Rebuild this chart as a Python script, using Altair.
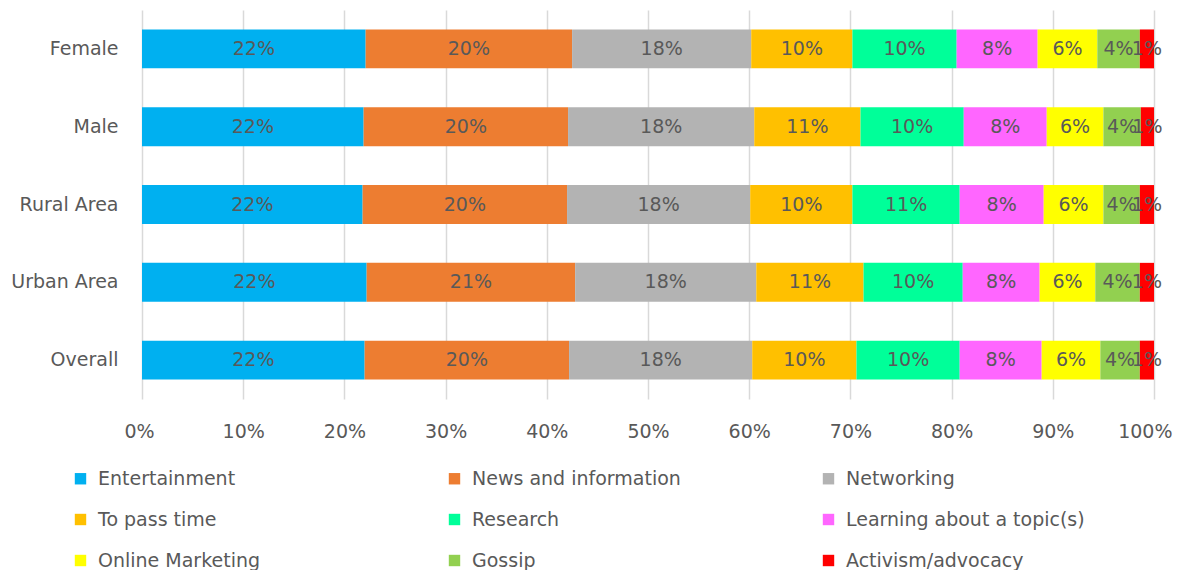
import math
import altair as alt
import pandas as pd

groups = ["Female", "Male", "Rural Area", "Urban Area", "Overall"]
reasons = ["Entertainment", "News and information", "Networking", "To pass time",
           "Research", "Learning about a topic(s)", "Online Marketing", "Gossip",
           "Activism/advocacy"]
colors = ["#00B0F0", "#ED7D31", "#B3B3B3", "#FFC000", "#00FF99", "#FF66FF",
          "#FFFF00", "#92D050", "#FF0000"]

female = [22.1, 20.4, 17.7, 10.0, 10.3, 8.0, 5.9, 4.2, 1.4]
male = [21.9, 20.2, 18.4, 10.5, 10.2, 8.2, 5.6, 3.7, 1.3]
rural = [21.8, 20.2, 18.1, 10.1, 10.6, 8.3, 5.9, 3.6, 1.4]
urban = [22.2, 20.6, 17.9, 10.6, 9.8, 7.6, 5.5, 4.4, 1.4]
overall = [22.0, 20.2, 18.1, 10.3, 10.2, 8.1, 5.8, 3.9, 1.4]

series = [female, male, rural, urban, overall]
rows = []
for g, vals in zip(groups, series):
    for i, (r, v) in enumerate(zip(reasons, vals)):
        rows.append({"group": g, "reason": r, "idx": i, "value": v,
                     "label": f"{int(math.floor(v + 0.5))}%"})
df = pd.DataFrame(rows)

FONT = "DejaVu Sans"
GREY = "#595959"
FS = 19

base = alt.Chart(df)

y_enc = alt.Y("group:N", sort=groups,
              scale=alt.Scale(paddingInner=0.5, paddingOuter=0.25),
              axis=alt.Axis(title=None, ticks=False, domain=False, grid=False,
                            labelFontSize=FS, labelColor=GREY, labelFont=FONT,
                            labelPadding=24))

bars = base.mark_bar().encode(
    y=y_enc,
    x=alt.X("value:Q", stack="zero",
            scale=alt.Scale(domain=[0, 100], nice=False, clamp=True),
            axis=alt.Axis(title=None, values=list(range(0, 101, 10)),
                          labelExpr="datum.value + '%'", ticks=False, domain=False,
                          labelFlush=True, labelFlushOffset=18,
                          grid=True, gridColor="#D9D9D9", gridWidth=1.5,
                          labelFontSize=FS, labelColor=GREY, labelFont=FONT,
                          labelPadding=23)),
    color=alt.Color("reason:N", scale=alt.Scale(domain=reasons, range=colors),
                    sort=reasons,
                    legend=alt.Legend(title=None, orient="none", legendX=-71,
                                      legendY=459, direction="horizontal",
                                      columns=3, gridAlign="all",
                                      columnPadding=108, rowPadding=21,
                                      symbolType="square", symbolSize=130,
                                      symbolStrokeWidth=0, labelOffset=8,
                                      labelFontSize=FS, labelColor=GREY,
                                      labelFont=FONT, labelLimit=400)),
    order=alt.Order("idx:Q"),
)

labels = base.transform_stack(
    stack="value", groupby=["group"], sort=[alt.SortField("idx")], as_=["x0", "x1"]
).transform_calculate(
    mid="(datum.x0 + datum.x1) / 2"
).mark_text(font=FONT, fontSize=FS, color=GREY).encode(
    y=alt.Y("group:N", sort=groups),
    x=alt.X("mid:Q"),
    text="label:N",
)

chart = alt.layer(bars, labels).properties(
    width=1012, height=389,
    autosize=alt.AutoSizeParams(type="none"),
    padding={"left": 134, "top": 2, "right": 20, "bottom": 171},
).configure_view(stroke=None)

chart.save("out.html", embed_options={"renderer": "svg", "actions": False})
